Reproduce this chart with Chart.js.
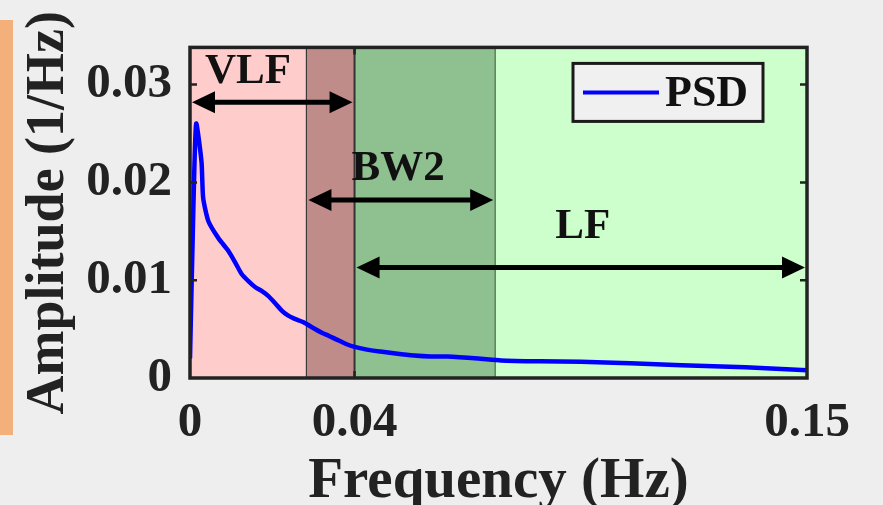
<!DOCTYPE html>
<html>
<head>
<meta charset="utf-8">
<script src="https://cdn.jsdelivr.net/npm/chart.js@4"></script>
<style>
    body { margin: 0; background: #eeeeee; }
    #wrap { position: relative; width: 883px; height: 505px; overflow: hidden; }
    #bar { position: absolute; left: 0; top: 20px; width: 13px; height: 415px; background: #f3b07b; }
</style>
</head>
<body>
<div id="wrap">
    <div id="bar"></div>
    <canvas id="myChart"></canvas>
</div>
<script>
// PSD curve
const psdFreq = [0, 0.0008, 0.0015, 0.0028, 0.0032, 0.0045, 0.0069, 0.0093, 0.011, 0.0126, 0.0142, 0.0158, 0.0174, 0.019, 0.0206, 0.0223, 0.0238, 0.0252, 0.0264, 0.0276, 0.0296, 0.0317, 0.0338, 0.0358, 0.0378, 0.0398, 0.043, 0.0463, 0.05, 0.0545, 0.0585, 0.0626, 0.07, 0.0756, 0.085, 0.095, 0.107, 0.1195, 0.135, 0.15];
const psdAmp = [0.002, 0.017, 0.026, 0.0221, 0.0184, 0.016, 0.0143, 0.013, 0.0118, 0.0106, 0.0099, 0.0093, 0.0089, 0.0084, 0.0077, 0.0069, 0.0064, 0.0061, 0.0059, 0.0057, 0.0052, 0.0047, 0.0043, 0.0039, 0.0035, 0.0032, 0.0029, 0.0027, 0.0025, 0.0023, 0.0022, 0.0022, 0.002, 0.0018, 0.0017, 0.00165, 0.0015, 0.0013, 0.0011, 0.0008];

const xTicks = [0, 0.04, 0.15];
const xTickLabels = ['0', '0.04', '0.15'];
const yTicks = [0, 0.01, 0.02, 0.03];
const yTickLabels = ['0', '0.01', '0.02', '0.03'];

// frequency bands
const bandNames = ['VLF', 'BW2', 'LF'];
const bandStart = [0, 0.0283, 0.04];
const bandEnd = [0.04, 0.0742, 0.15];

// where arrows and band names sit (data units)
const arrowLevel = [0.0282, 0.0182, 0.0113];
const nameX = [0.0141, 0.0506, 0.0955];
const nameY = [0.0313, 0.0214, 0.0155];

const serif = '"Liberation Serif", "Times New Roman", serif';

let points = [];

for (let i = 0; i < psdFreq.length; i++)
{
    points[i] = { x: psdFreq[i], y: psdAmp[i] }
}

const drawArrow = (ctx, x1, x2, y) =>
{
    const head = 23;
    const half = 11;
    ctx.strokeStyle = '#000';
    ctx.fillStyle = '#000';
    ctx.lineWidth = 5;
    ctx.beginPath();
    ctx.moveTo(x1 + head - 2, y);
    ctx.lineTo(x2 - head + 2, y);
    ctx.stroke();
    ctx.beginPath();
    ctx.moveTo(x1, y);
    ctx.lineTo(x1 + head, y - half);
    ctx.lineTo(x1 + head, y + half);
    ctx.closePath();
    ctx.fill();
    ctx.beginPath();
    ctx.moveTo(x2, y);
    ctx.lineTo(x2 - head, y - half);
    ctx.lineTo(x2 - head, y + half);
    ctx.closePath();
    ctx.fill();
}

const bandPlugin =
{
    id: 'bands',
    beforeDatasetsDraw(chart)
    {
        const { ctx, chartArea, scales } = chart;
        const x = scales.x;
        const top = chartArea.top;
        const h = chartArea.bottom - chartArea.top;
        const px = (v) => x.getPixelForValue(v);

        ctx.save();
        // VLF only
        ctx.fillStyle = '#ffcccc';
        ctx.fillRect(px(bandStart[0]), top, px(bandStart[1]) - px(bandStart[0]), h);
        // VLF + BW2
        ctx.fillStyle = '#c08c8a';
        ctx.fillRect(px(bandStart[1]), top, px(bandEnd[0]) - px(bandStart[1]), h);
        // BW2 + LF
        ctx.fillStyle = '#8fc08f';
        ctx.fillRect(px(bandStart[2]), top, px(bandEnd[1]) - px(bandStart[2]), h);
        // LF only
        ctx.fillStyle = '#ccffcc';
        ctx.fillRect(px(bandEnd[1]), top, px(bandEnd[2]) - px(bandEnd[1]), h);

        ctx.strokeStyle = '#3a3a3a';
        ctx.lineWidth = 1.2;
        ctx.beginPath();
        ctx.moveTo(px(bandStart[1]), top);
        ctx.lineTo(px(bandStart[1]), chartArea.bottom);
        ctx.stroke();
        ctx.strokeStyle = '#4a6a4a';
        ctx.beginPath();
        ctx.moveTo(px(bandEnd[1]), top);
        ctx.lineTo(px(bandEnd[1]), chartArea.bottom);
        ctx.stroke();
        ctx.strokeStyle = '#333';
        ctx.lineWidth = 2;
        ctx.beginPath();
        ctx.moveTo(px(bandStart[2]), top);
        ctx.lineTo(px(bandStart[2]), chartArea.bottom);
        ctx.stroke();
        ctx.restore();
    },
    afterDatasetsDraw(chart)
    {
        const { ctx, chartArea, scales } = chart;
        const x = scales.x;
        const y = scales.y;

        ctx.save();
        for (let i = 0; i < bandNames.length; i++)
        {
            drawArrow(ctx, x.getPixelForValue(bandStart[i]) + 2, x.getPixelForValue(bandEnd[i]) - 2, y.getPixelForValue(arrowLevel[i]));
            ctx.font = 'bold 43px ' + serif;
            ctx.fillStyle = '#111';
            ctx.textAlign = 'center';
            ctx.textBaseline = 'middle';
            ctx.fillText(bandNames[i], x.getPixelForValue(nameX[i]), y.getPixelForValue(nameY[i]));
        }

        // legend box
        const lx = chartArea.right - 234;
        const ly = chartArea.top + 16;
        ctx.fillStyle = '#f0f0f0';
        ctx.fillRect(lx, ly, 190, 58);
        ctx.strokeStyle = '#1a1a1a';
        ctx.lineWidth = 3;
        ctx.strokeRect(lx, ly, 190, 58);
        ctx.strokeStyle = '#0000ff';
        ctx.lineWidth = 4;
        ctx.beginPath();
        ctx.moveTo(lx + 10, ly + 29);
        ctx.lineTo(lx + 86, ly + 29);
        ctx.stroke();
        ctx.font = 'bold 44px ' + serif;
        ctx.fillStyle = '#111';
        ctx.textAlign = 'left';
        ctx.textBaseline = 'middle';
        ctx.fillText('PSD', lx + 92, ly + 31);

        // frame and inward ticks
        ctx.strokeStyle = '#222';
        ctx.lineWidth = 3.5;
        ctx.strokeRect(chartArea.left, chartArea.top, chartArea.right - chartArea.left, chartArea.bottom - chartArea.top);
        ctx.lineWidth = 2.5;
        ctx.beginPath();
        for (let i = 1; i < yTicks.length; i++)
        {
            const ty = y.getPixelForValue(yTicks[i]);
            ctx.moveTo(chartArea.left, ty);
            ctx.lineTo(chartArea.left + 7, ty);
            ctx.moveTo(chartArea.right, ty);
            ctx.lineTo(chartArea.right - 7, ty);
        }
        const tx = x.getPixelForValue(xTicks[1]);
        ctx.moveTo(tx, chartArea.bottom);
        ctx.lineTo(tx, chartArea.bottom - 7);
        ctx.moveTo(tx, chartArea.top);
        ctx.lineTo(tx, chartArea.top + 7);
        ctx.stroke();
        ctx.restore();
    }
}

var ctx = document.getElementById('myChart');

new Chart(ctx,
{
    type: 'line',
    data:
    {
        datasets:
        [
            {
                label: 'PSD',
                data: points,
                borderColor: '#0000ff',
                borderWidth: 4.5,
                borderJoinStyle: 'round',
                pointRadius: 0,
                tension: 0.2,
                fill: false
            }
        ]
    },
    plugins: [bandPlugin],
    options:
    {
        responsive: true,
        maintainAspectRatio: false,
        animation: false,
        layout:
        {
            padding: { top: 45, right: 76, left: 0, bottom: 0 }
        },
        plugins:
        {
            legend: { display: false },
            tooltip: { enabled: false }
        },
        scales:
        {
            x:
            {
                type: 'linear',
                min: 0,
                max: 0.15,
                afterBuildTicks: (scale) => { scale.ticks = xTicks.map((v) => ({ value: v })) },
                afterFit: (scale) => { scale.height = 127 },
                grid: { display: false, drawTicks: false },
                border: { display: false },
                ticks:
                {
                    padding: 16,
                    color: '#222',
                    maxRotation: 0,
                    autoSkip: false,
                    font: { family: serif, size: 49, weight: 'bold' },
                    callback: (value) => xTickLabels[xTicks.indexOf(value)]
                },
                title:
                {
                    display: true,
                    text: 'Frequency (Hz)',
                    color: '#222',
                    font: { family: serif, size: 57, weight: 'bold', lineHeight: 0.8 },
                    padding: { top: 0, bottom: 0 }
                }
            },
            y:
            {
                min: 0,
                max: 0.0338,
                afterBuildTicks: (scale) => { scale.ticks = yTicks.map((v) => ({ value: v })) },
                afterFit: (scale) => { scale.width = 190 },
                grid: { display: false, drawTicks: false },
                border: { display: false },
                ticks:
                {
                    padding: 18,
                    color: '#222',
                    font: { family: serif, size: 49, weight: 'bold' },
                    callback: (value) => yTickLabels[yTicks.indexOf(value)]
                },
                title:
                {
                    display: true,
                    text: 'Amplitude (1/Hz)',
                    color: '#222',
                    font: { family: serif, size: 54, weight: 'bold' },
                    padding: { top: 17, bottom: 0 }
                }
            }
        }
    }
});
</script>
</body>
</html>
